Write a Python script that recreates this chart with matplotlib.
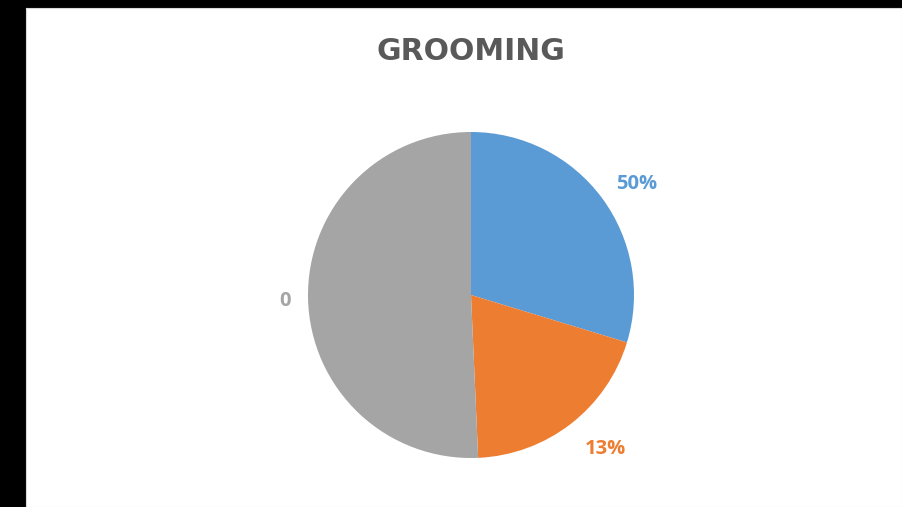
import matplotlib
matplotlib.use("Agg")
import matplotlib.pyplot as plt
import numpy as np

title = "GROOMING"
categories = ["A", "B", "C"]
values = [29.7, 19.6, 50.7]
labels = ["50%", "13%", "0"]
colors = ["#5B9BD5", "#ED7D31", "#A5A5A5"]
label_dist = [1.225, 1.25, 1.14]
label_ang_off = [-2.7, 3.3, 0.5]

W, H = 902, 507
fig = plt.figure(figsize=(W / 100, H / 100), dpi=100)
fig.patch.set_facecolor("black")

# white chart area
bg = fig.add_axes([26 / W, 0, 1 - 26 / W, 1 - 8 / H])
bg.set_facecolor("white")
bg.set_xticks([]); bg.set_yticks([])
for s in bg.spines.values():
    s.set_color("#D9D9D9")

cx, cy, r = 471, 295, 163
ax = fig.add_axes([(cx - r) / W, (H - cy - r) / H, 2 * r / W, 2 * r / H])
wedges, _ = ax.pie(values, colors=colors, startangle=90, counterclock=False,
                   wedgeprops=dict(linewidth=0))
ax.set_xlim(-1, 1); ax.set_ylim(-1, 1)
ax.set_aspect("auto")

for w, lab, col, d, off in zip(wedges, labels, colors, label_dist, label_ang_off):
    ang = np.deg2rad((w.theta1 + w.theta2) / 2 + off)
    ax.text(d * np.cos(ang), d * np.sin(ang), lab, color=col, fontsize=14.5,
            fontweight="bold", family="Open Sans", ha="center", va="center",
            clip_on=False)

fig.text(471 / W, 1 - 52 / H, title, ha="center", va="center", fontsize=21.5,
         fontweight="bold", family="DejaVu Sans", color="#595959")

fig.savefig("out.png", dpi=100)
